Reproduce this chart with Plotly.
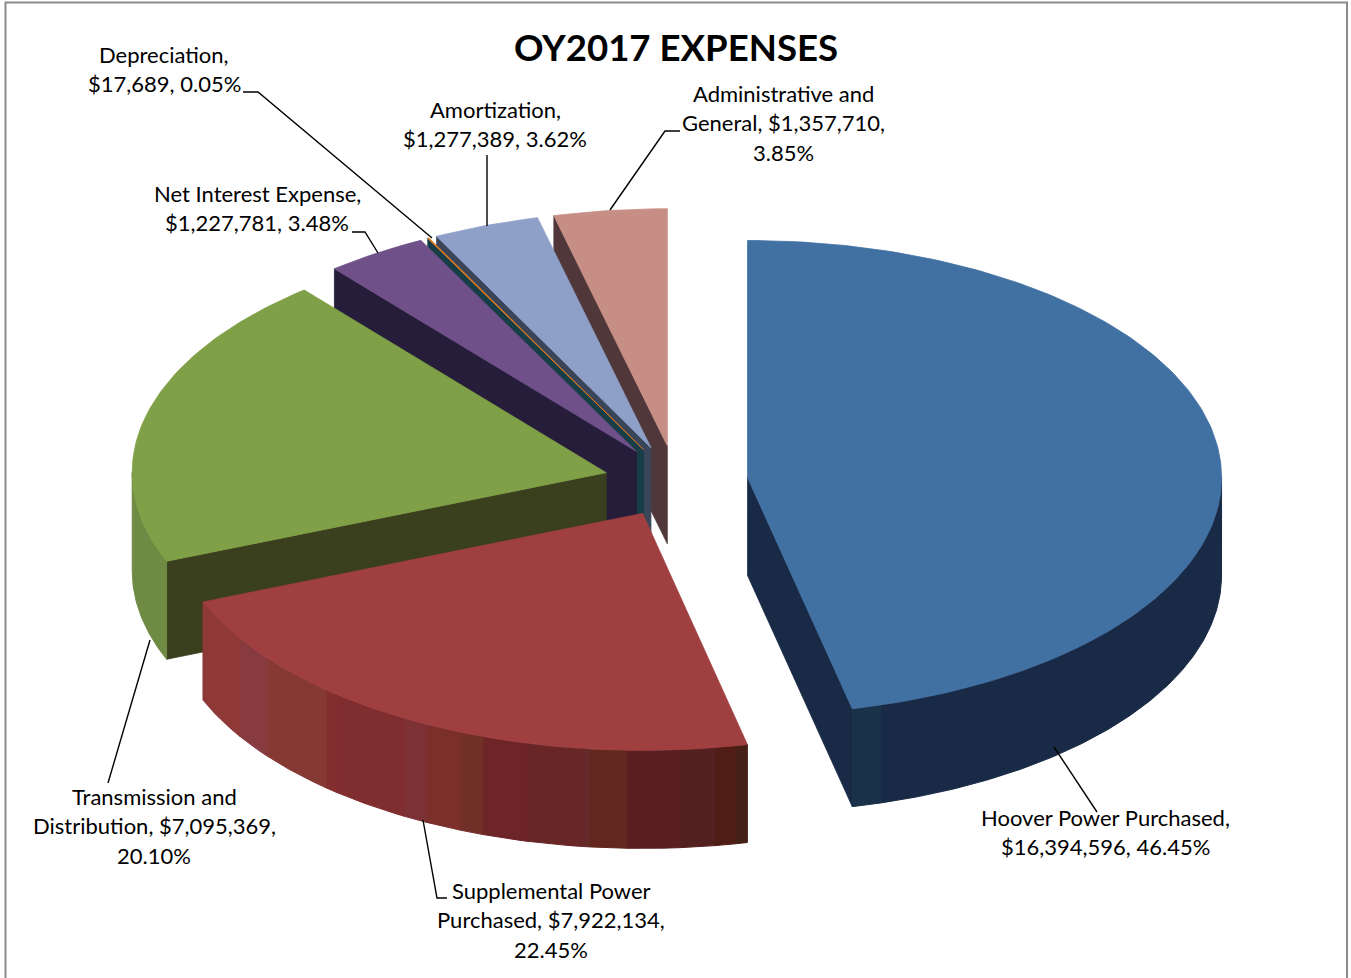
import math
import plotly.graph_objects as go

# ---- data ----
categories = ["Hoover Power Purchased", "Supplemental Power Purchased",
              "Transmission and Distribution", "Net Interest Expense",
              "Depreciation", "Amortization", "Administrative and General"]
values = [16394596, 7922134, 7095369, 1227781, 17689, 1277389, 1357710]
top_colors = ["#4170A2", "#A03F40", "#7FA046", "#6F5089", "#E07B20", "#8E9FC8", "#C68E85"]
cut_colors = ["#182A45", "#6B2A2A", "#3A3F1E", "#261D3A", "#173E47", "#3B4559", "#50383A"]
label_lines = [
    ["Hoover Power Purchased,", "$16,394,596, 46.45%"],
    ["Supplemental Power", "Purchased, $7,922,134,", "22.45%"],
    ["Transmission and", "Distribution, $7,095,369,", "20.10%"],
    ["Net Interest Expense,", "$1,227,781, 3.48%"],
    ["Depreciation,", "$17,689, 0.05%"],
    ["Amortization,", "$1,277,389, 3.62%"],
    ["Administrative and", "General, $1,357,710,", "3.85%"],
]
title_text = "OY2017 EXPENSES"

# ---- layout constants (pixels) ----
W, H = 1351, 978
CX, CY = 676, 481.5
RX, RY = 474, 237
DEPTH = 98
EXPLODE = 72
LABEL_POS = [(1105, 817.5), (551, 890.5), (154, 796.5), (257, 193.5), (164, 54.5), (495, 109.5), (783, 93.5)]
LINE_GAP = 29.3
LEADERS = [
    [(1054, 747), (1097, 812)],
    [(423, 820), (437, 898), (447, 898)],
    [(150, 640), (108, 783)],
    [(352, 232), (365, 232), (378, 253)],
    [(243, 92), (258, 92), (432, 238)],
    [(487, 155), (487, 226)],
    [(610, 210), (665, 131), (680, 131)],
]
# shading bands along the rim of the front slices: slice -> band limits (screen x) and colours
RIM_EDGES = {
    0: [1222, 881, 852],
    1: [749, 735, 715, 680, 627, 590, 583, 527, 483, 460, 427, 404, 336, 326, 267, 240, 203],
    2: [168, 132],
}
RIM_COLORS = {
    0: ["#182A45", "#1A3249"],
    1: ["#452016", "#4F1D15", "#532020", "#5A1F20", "#622820", "#642A2A", "#692626", "#6E2528",
        "#712F27", "#7A2F2B", "#7C3134", "#802D30", "#832E2F", "#863833", "#873A3F", "#8E3838"],
    2: ["#6F8A43"],
}
DRAW_ORDER = [6, 5, 4, 3, 0, 2, 1]

total = sum(values)
fractions = [v / total for v in values]
starts, acc = [], 0.0
for f in fractions:
    starts.append(acc * 2 * math.pi)
    acc += f
ends = [s + f * 2 * math.pi for s, f in zip(starts, fractions)]

fig = go.Figure()


def poly(xs, ys, color, name, width=0.8):
    fig.add_trace(go.Scatter(
        x=list(xs) + [xs[0]], y=list(ys) + [ys[0]], mode="lines", fill="toself",
        fillcolor=color, line=dict(color=color, width=width), name=name,
        hoverinfo="skip", showlegend=False))


for i in DRAW_ORDER:
    a0, a1 = starts[i], ends[i]
    mid = (a0 + a1) / 2
    ox = CX + EXPLODE * math.sin(mid)
    oy = CY - 0.5 * EXPLODE * math.cos(mid)
    px = lambda t: ox + RX * math.sin(t)
    py = lambda t: oy - RY * math.cos(t)
    name = categories[i]

    # cut faces turned towards the viewer
    for edge, normal in ((a0, a0 - math.pi / 2), (a1, a1 + math.pi / 2)):
        if math.cos(normal) < -1e-3:
            ex, ey = px(edge), py(edge)
            poly([ox, ex, ex, ox], [oy, ey, ey + DEPTH, oy + DEPTH], cut_colors[i], name)

    # rim, front half of the ellipse only, split into shading bands
    lo = max(a0, math.pi / 2)
    hi = min(a1, 3 * math.pi / 2)
    if hi > lo:
        if i in RIM_EDGES:
            limits = [math.pi - math.asin(max(-1, min(1, (x - ox) / RX))) for x in RIM_EDGES[i]]
            limits = [max(lo, min(hi, t)) for t in limits]
            limits[0], limits[-1] = lo, hi
            colors = RIM_COLORS[i]
        else:
            limits, colors = [lo, hi], [cut_colors[i]]
        for b, col in enumerate(colors):
            t0, t1 = limits[b], limits[b + 1]
            if t1 <= t0:
                continue
            n = max(3, int((t1 - t0) * 120))
            seg = [t0 + (t1 - t0) * k / n for k in range(n + 1)]
            xs = [px(t) for t in seg] + [px(t) for t in reversed(seg)]
            ys = [py(t) for t in seg] + [py(t) + DEPTH for t in reversed(seg)]
            poly(xs, ys, col, name, width=1)

    # top face
    n = max(6, int((a1 - a0) * 60))
    arc = [a0 + (a1 - a0) * k / n for k in range(n + 1)]
    poly([ox] + [px(t) for t in arc], [oy] + [py(t) for t in arc], top_colors[i], name)

# leader lines
for i, pts in enumerate(LEADERS):
    fig.add_trace(go.Scatter(x=[p[0] for p in pts], y=[p[1] for p in pts], mode="lines",
                             line=dict(color="#000000", width=1.4), hoverinfo="skip",
                             showlegend=False, name=categories[i]))

# labels
annotations = []
for lines, (lx, ly) in zip(label_lines, LABEL_POS):
    for j, text in enumerate(lines):
        annotations.append(dict(x=lx, y=ly + j * LINE_GAP, xref="x", yref="y", text=text,
                                showarrow=False, xanchor="center", yanchor="middle",
                                font=dict(family="Lato, sans-serif", size=22, color="#000000")))
annotations.append(dict(x=676, y=47, xref="x", yref="y", text="<b>" + title_text + "</b>",
                        showarrow=False, xanchor="center", yanchor="middle",
                        font=dict(family="Lato, sans-serif", size=36.6, color="#000000")))

# chart frame: top, left and right edges only are in the picture
fig.add_trace(go.Scatter(x=[5.5, 5.5, 1347, 1347], y=[H + 5, 2.5, 2.5, H + 5], mode="lines",
                         line=dict(color="#8C8C8C", width=2), hoverinfo="skip",
                         showlegend=False, name="frame"))

fig.update_layout(
    width=W, height=H, margin=dict(l=0, r=0, t=0, b=0),
    paper_bgcolor="#FFFFFF", plot_bgcolor="#FFFFFF", showlegend=False,
    xaxis=dict(range=[0, W], visible=False, fixedrange=True),
    yaxis=dict(range=[H, 0], visible=False, fixedrange=True),
    annotations=annotations,
)
fig.write_html("out.html", config={"displayModeBar": False},
               post_script="document.body.style.margin='0';document.body.style.overflow='hidden';")
